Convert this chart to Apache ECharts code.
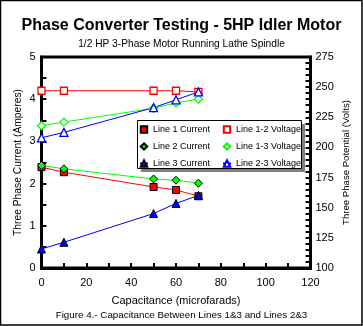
<!DOCTYPE html>
<html>
<head>
<meta charset="utf-8">
<script src="https://cdn.jsdelivr.net/npm/echarts@6/dist/echarts.min.js"></script>
<style>html,body{margin:0;padding:0;background:#fff}#c{width:363px;height:326px}</style>
</head>
<body>
<div id="c"></div>
<script>
var capacitance = [0, 10, 50, 60, 70];
var line1Current = [2.39, 2.27, 1.92, 1.85, 1.70];
var line2Current = [2.43, 2.35, 2.11, 2.08, 2.01];
var line3Current = [0.45, 0.61, 1.29, 1.53, 1.72];
var line12Voltage = [247, 247, 247, 247, 246];
var line13Voltage = [218, 221, 232.5, 237, 240];
var line23Voltage = [208, 212.5, 233, 239.5, 246];
var xTicks = [0, 20, 40, 60, 80, 100, 120];
var currentTicks = [0, 1, 2, 3, 4, 5];
var voltageTicks = [100, 125, 150, 175, 200, 225, 250, 275];

function pairs(vals) { return capacitance.map(function (x, i) { return [x, vals[i]]; }); }

var FONT = '"Liberation Sans", Arial, sans-serif';
var LEG_FONT = FONT, LEG_SIZE = 9;

var chart = echarts.init(document.getElementById('c'), null, { renderer: 'canvas' });

function filled(name, data, color, symbol, size, axis) {
  return {
    name: name, type: 'line', data: pairs(data), yAxisIndex: axis,
    symbol: symbol, symbolSize: size, showSymbol: true,
    lineStyle: { color: color, width: 1 },
    itemStyle: { color: color, borderColor: '#000', borderWidth: 1 },
    emphasis: { disabled: true }, animation: false
  };
}
function hollow(name, data, color, symbol, size, axis) {
  return {
    name: name, type: 'line', data: pairs(data), yAxisIndex: axis,
    symbol: symbol, symbolSize: size, showSymbol: true,
    lineStyle: { color: color, width: 1 },
    itemStyle: { color: '#fff', borderColor: color, borderWidth: 1.3 },
    emphasis: { disabled: true }, animation: false
  };
}

var option = {
  backgroundColor: '#fff',
  animation: false,
  title: [
    { text: 'Phase Converter Testing - 5HP Idler Motor', left: 'center', top: 13,
      textStyle: { fontFamily: FONT, fontSize: 16, fontWeight: 'bold', color: '#000' } },
    { text: '1/2 HP 3-Phase Motor Running Lathe Spindle', left: 'center', top: 34,
      textStyle: { fontFamily: FONT, fontSize: 10.2, fontWeight: 'normal', color: '#000' } },
    { text: 'Figure 4.- Capacitance Between Lines 1&3 and Lines 2&3', left: 'center', top: 305,
      textStyle: { fontFamily: FONT, fontSize: 9.8, fontWeight: 'normal', color: '#000' } }
  ],
  grid: { left: 41.5, top: 57, width: 269, height: 211, show: true, borderColor: '#000', borderWidth: 3, containLabel: false },
  xAxis: {
    type: 'value', min: 0, max: 120, interval: 20,
    name: 'Capacitance (microfarads)', nameLocation: 'middle', nameGap: 27,
    nameTextStyle: { fontFamily: FONT, fontSize: 11, color: '#000' },
    axisLine: { show: true, lineStyle: { color: '#000', width: 3 } },
    axisTick: { show: true, inside: true, length: 5, lineStyle: { color: '#000', width: 2 } },
    minorTick: { show: true, splitNumber: 2, length: 5, lineStyle: { color: '#000', width: 2 } },
    splitLine: { show: false },
    axisLabel: { fontFamily: FONT, fontSize: 11, color: '#000', margin: 9,
      formatter: function (v) { return xTicks.indexOf(v) >= 0 ? String(v) : ''; } }
  },
  yAxis: [
    { type: 'value', min: 0, max: 5, interval: 1, position: 'left',
      name: 'Three Phase Current (Amperes)', nameLocation: 'middle', nameGap: 18, nameRotate: 90,
      nameMoveOverlap: false,
      nameTextStyle: { fontFamily: FONT, fontSize: 10.3, color: '#000' },
      axisLine: { show: true, lineStyle: { color: '#000', width: 3 } },
      axisTick: { show: true, inside: true, length: 5, lineStyle: { color: '#000', width: 2 } },
      minorTick: { show: true, splitNumber: 2, length: 5, lineStyle: { color: '#000', width: 2 } },
      splitLine: { show: false },
      axisLabel: { fontFamily: FONT, fontSize: 11, color: '#000', margin: 6,
        formatter: function (v) { return currentTicks.indexOf(v) >= 0 ? String(v) : ''; } } },
    { type: 'value', min: 100, max: 275, interval: 25, position: 'right',
      name: 'Three Phase Potential (Volts)', nameLocation: 'middle', nameGap: 31, nameRotate: 90,
      nameMoveOverlap: false,
      nameTextStyle: { fontFamily: FONT, fontSize: 9.6, color: '#000' },
      axisLine: { show: true, lineStyle: { color: '#000', width: 3 } },
      axisTick: { show: true, inside: true, length: 5, lineStyle: { color: '#000', width: 2 } },
      minorTick: { show: true, splitNumber: 5, length: 5, lineStyle: { color: '#000', width: 2 } },
      splitLine: { show: false },
      axisLabel: { fontFamily: FONT, fontSize: 11, color: '#000', margin: 5,
        formatter: function (v) { return voltageTicks.indexOf(v) >= 0 ? String(v) : ''; } } }
  ],
  legend: [
    { data: ['Line 1 Current', 'Line 2 Current', 'Line 3 Current'], orient: 'vertical',
      left: 139, top: 124, itemWidth: 8, itemHeight: 8, itemGap: 6, z: 20, padding: 0,
      selectedMode: false, textStyle: { fontFamily: LEG_FONT, fontSize: LEG_SIZE, color: '#000', lineHeight: 11 } },
    { data: ['Line 1-2 Voltage', 'Line 1-3 Voltage', 'Line 2-3 Voltage'], orient: 'vertical',
      left: 222, top: 124, itemWidth: 8, itemHeight: 8, itemGap: 6, z: 20, padding: 0,
      selectedMode: false, textStyle: { fontFamily: LEG_FONT, fontSize: LEG_SIZE, color: '#000', lineHeight: 11 } }
  ],
  graphic: [
    { type: 'rect', z: 10, silent: true, shape: { x: 141, y: 124, width: 164, height: 48 }, style: { fill: '#808080' } },
    { type: 'rect', z: 11, silent: true, shape: { x: 137.5, y: 120.5, width: 164, height: 48 }, style: { fill: '#fff', stroke: '#000', lineWidth: 1 } },
    { type: 'rect', z: 30, silent: true, shape: { x: 0.5, y: 0.5, width: 361.5, height: 324.5 }, style: { fill: 'none', stroke: '#000', lineWidth: 1.5 } }
  ],
  series: [
    filled('Line 1 Current', line1Current, '#ff0000', 'rect', 7, 0),
    filled('Line 2 Current', line2Current, '#00ff00', 'diamond', 8, 0),
    filled('Line 3 Current', line3Current, '#0000ff', 'triangle', 8, 0),
    hollow('Line 1-2 Voltage', line12Voltage, '#ff0000', 'rect', 7, 1),
    hollow('Line 1-3 Voltage', line13Voltage, '#00ff00', 'diamond', 8, 1),
    hollow('Line 2-3 Voltage', line23Voltage, '#0000ff', 'triangle', 8, 1)
  ]
};
chart.setOption(option);
</script>
</body>
</html>
